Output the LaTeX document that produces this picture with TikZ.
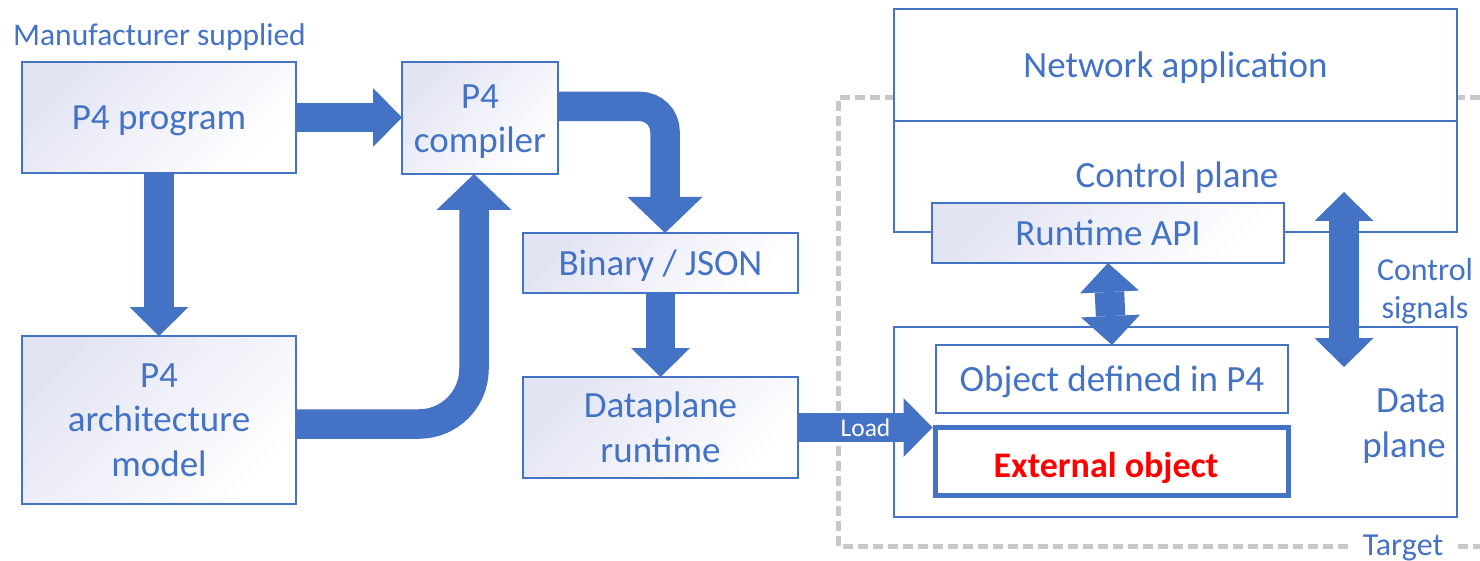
\documentclass[tikz,border=0pt]{standalone}
\usepackage{fontspec}
\setmainfont{Carlito}
\usetikzlibrary{arrows.meta,calc}

\definecolor{ofblue}{HTML}{4472C4}
\definecolor{dashgray}{HTML}{C8C8C8}
\definecolor{tint}{HTML}{E2E4F3}

\tikzset{
  box/.style={draw=ofblue, line width=1.7pt, inner sep=0pt, outer sep=0pt,
    text=ofblue, align=center, font=\fontsize{37}{44.5}\selectfont},
  gbox/.style={box, top color=tint, middle color=tint!35!white, bottom color=white, shading angle=45},
  wbox/.style={box, fill=white},
  oneline/.style={text height=26pt, text depth=1pt},
  lbl/.style={inner sep=0pt, text=ofblue, font=\fontsize{37}{44.5}\selectfont},
  smalllbl/.style={lbl, font=\fontsize{32}{38}\selectfont},
  tipA/.style={-{Triangle[width=59pt,length=29pt,line width=0pt]}},
  flow/.style={draw=ofblue, line width=29.5pt, tipA},
  bentflow/.style={draw=ofblue, line width=29.5pt,
    -{Triangle[width=75pt,length=36pt,line width=0pt]}},
  twoway/.style={draw=ofblue, line width=29.5pt,
    {Triangle[width=59pt,length=29pt,line width=0pt]}-{Triangle[width=59pt,length=29pt,line width=0pt]}},
  targetline/.style={draw=dashgray, line width=5pt, dash pattern=on 10pt off 5pt},
}

\begin{document}
\begin{tikzpicture}[x=1pt, y=-1pt]
\useasboundingbox (0,0) rectangle (1480,561);

% target boundary (right side runs off the page)
\draw[targetline] (1480,98) -- (838,98) -- (838,546) -- (1480,546);
\node[smalllbl, fill=white, inner xsep=15pt, anchor=base] (target) at (1403,555) {Target};

% toolchain side
\node[lbl, font=\fontsize{31.5}{38}\selectfont, anchor=base west] (mfr) at (13,46) {Manufacturer supplied};
\node[gbox, oneline, minimum width=274pt, minimum height=111pt] (prog) at (159,117.5) {P4 program};
\node[gbox, minimum width=156pt, minimum height=112pt] (comp) at (480,118) {\rule{0pt}{31pt}P4\\compiler};
\node[gbox, minimum width=274pt, minimum height=168pt] (arch) at (159,420) {P4\\architecture\\model};
\node[gbox, oneline, minimum width=275pt, minimum height=60pt] (bin) at (660.5,263) {Binary / JSON};
\node[gbox, minimum width=275pt, minimum height=101pt] (dprt) at (660.5,427.5) {Dataplane\\runtime};

% target side
\node[wbox, oneline, minimum width=563pt, minimum height=112pt] (net) at (1175.5,65) {Network application};
\node[wbox, minimum width=563pt, minimum height=111pt] (cp) at (1175.5,176.5) {};
\node[lbl, anchor=base] (cplbl) at (1177,188) {Control plane};
\node[gbox, oneline, minimum width=352pt, minimum height=60pt] (api) at (1108,233) {Runtime API};
\node[wbox, minimum width=563pt, minimum height=190pt] (dpl) at (1175.5,422) {};
\node[lbl, align=right, anchor=north east] (dpllbl) at (1446,389) {Data\\plane};
\node[wbox, oneline, minimum width=352pt, minimum height=68pt] (obj) at (1112,379) {Object defined in P4};
\node[wbox, line width=5pt, minimum width=353pt, minimum height=68pt,
  label={[lbl, text=red, font=\bfseries\fontsize{36}{42}\selectfont,
          text height=31pt, text depth=0pt, xshift=-6pt]center:External object}]
  (ext) at (1112,461.5) {};
% two-line label: its base anchor sits on the last line
\node[smalllbl, align=center, anchor=base] (cslbl) at (1425,318) {Control\\signals};

% block arrows
\draw[flow] (prog.east) -- (prog.east -| comp.west);
\draw[flow] (prog.south) -- (arch.north);
\draw[bentflow, rounded corners=55pt] ([yshift=-4pt]arch.east) -| ([xshift=-6pt]comp.south);
\draw[bentflow, rounded corners=25pt] ([yshift=11.5pt]comp.east) -| ([xshift=4.5pt]bin.north);
\draw[flow] (bin.south) -- (dprt.north);
\draw[flow] (dprt.east) -- ([xshift=-3pt]dprt.east -| ext.west);
\node[inner sep=0pt, text=white, font=\fontsize{25.5}{30}\selectfont] (load) at (865.5,427.5) {Load};
\draw[twoway] (api.south) -- (obj.north);
\coordinate (csTop) at (1344,192);
\coordinate (csBot) at (1344,367);
\draw[twoway] (csTop) -- (csBot);
\end{tikzpicture}
\end{document}
